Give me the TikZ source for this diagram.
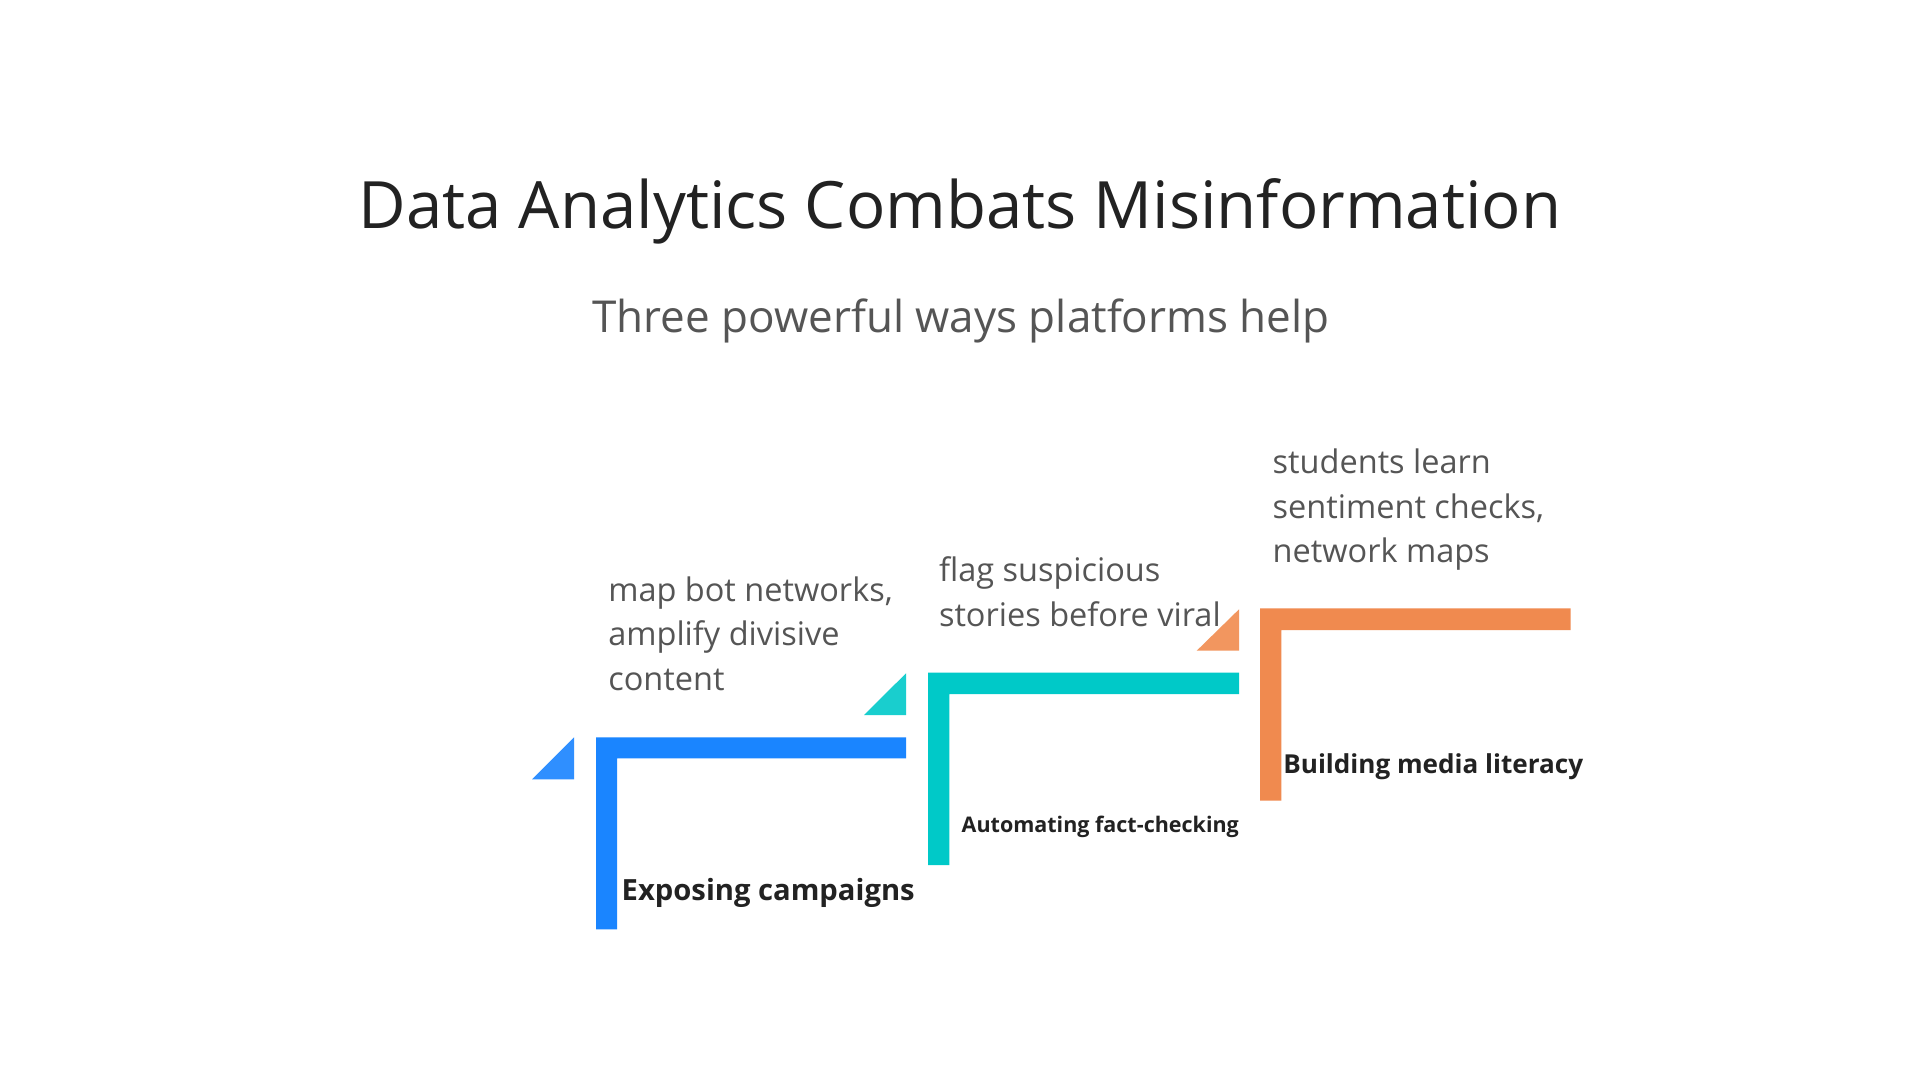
\documentclass[tikz,border=0pt]{standalone}
\usepackage{fontspec}
\setmainfont{Open Sans}
\definecolor{titlecol}{HTML}{222222}
\definecolor{subcol}{HTML}{555555}
\definecolor{bluebar}{HTML}{1A85FF}
\definecolor{bluetri}{HTML}{2F8FFF}
\definecolor{tealbar}{HTML}{00C9C8}
\definecolor{tealtri}{HTML}{19CECE}
\definecolor{orangebar}{HTML}{F08A4F}
\definecolor{orangetri}{HTML}{F2965F}
\begin{document}
\begin{tikzpicture}[x=1pt,y=-1pt,
  txt/.style={inner sep=0pt, outer sep=0pt},
  desc/.style={txt, anchor=base west, align=left, text=subcol, font=\fontsize{32.5}{44.5}\selectfont},
  lbl/.style={txt, anchor=base west, text=titlecol, font=\bfseries}]
\useasboundingbox[fill=white] (0,0) rectangle (1920,1080);

% title
\node[txt, anchor=base, text=titlecol, font=\fontsize{65.3}{78}\selectfont] (title) at (960,228) {Data Analytics Combats Misinformation};
\node[txt, anchor=base, text=subcol, font=\fontsize{44}{52}\selectfont] (subtitle) at (961,332) {Three powerful ways platforms help};

% blue step
\fill[bluebar] (596,737.3) -- (906,737.3) -- (906,758.3) -- (617,758.3) -- (617,929.3) -- (596,929.3) -- cycle;
\fill[bluetri] (532,779.3) -- (574,779.3) -- (574,737.3) -- cycle;
% teal step
\fill[tealbar] (928,672.7) -- (1239,672.7) -- (1239,694) -- (949.3,694) -- (949.3,865) -- (928,865) -- cycle;
\fill[tealtri] (864,715) -- (906,715) -- (906,673.3) -- cycle;
% orange step
\fill[orangebar] (1260,608.3) -- (1570.7,608.3) -- (1570.7,630) -- (1281.3,630) -- (1281.3,800.7) -- (1260,800.7) -- cycle;
\fill[orangetri] (1196.7,650.7) -- (1239,650.7) -- (1239,609.3) -- cycle;

% descriptions (anchor = baseline of last line)
\node[desc] (d1) at (608.3,690) {map bot networks,\\amplify divisive\\content};
\node[desc] (d2) at (939,626) {flag suspicious\\stories before viral};
\node[desc] (d3) at (1272.7,562.7) {students learn\\sentiment checks,\\network maps};

% labels
\node[lbl, font=\bfseries\fontsize{29.2}{35}\selectfont] (l1) at (621.7,900) {Exposing campaigns};
\node[lbl, font=\bfseries\fontsize{21.5}{26}\selectfont] (l2) at (961.7,832.3) {Automating fact-checking};
\node[lbl, font=\bfseries\fontsize{26.1}{31}\selectfont] (l3) at (1283.3,773.3) {Building media literacy};
\end{tikzpicture}
\end{document}
